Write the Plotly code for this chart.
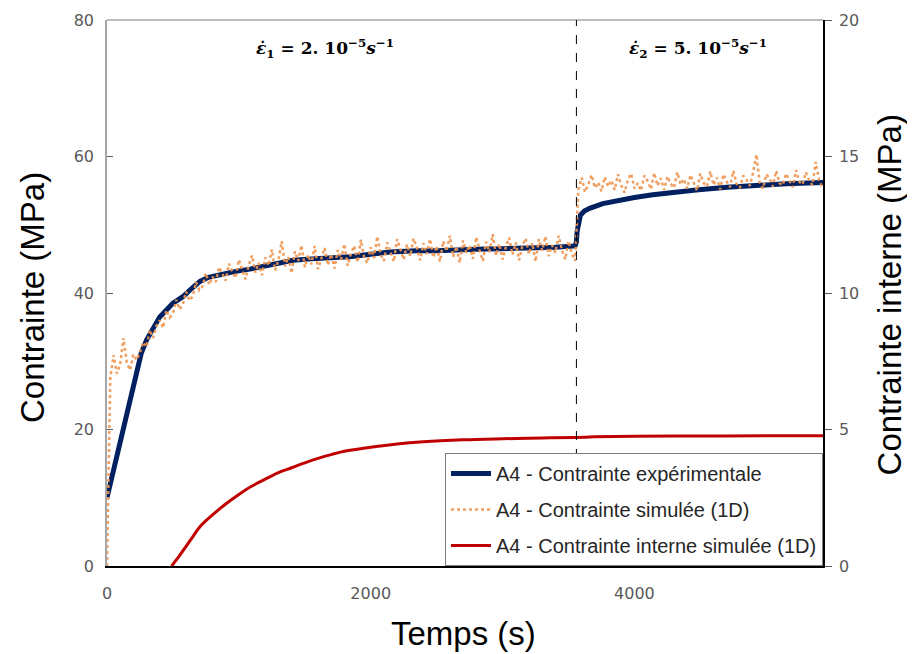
import plotly.graph_objects as go

# ---------------- data ----------------
exp_t = [0, 50, 100, 150, 200, 225, 260, 300, 350, 400, 500, 578, 650, 705, 770, 831,
         957, 1083, 1200, 1300, 1411, 1550, 1664, 1750, 1841, 1967, 2144, 2346, 2500,
         2800, 3000, 3179, 3400, 3550, 3560, 3565, 3575, 3590, 3620, 3660, 3760, 3886,
         4000, 4139, 4300, 4467, 4700, 4922, 5150, 5430]
exp_stress = [10.0, 14.2, 18.3, 22.5, 26.6, 28.7, 31.2, 33.1, 35.0, 36.5, 38.5, 39.5, 40.8,
              41.7, 42.3, 42.6, 43.1, 43.5, 43.9, 44.3, 44.8, 45.0, 45.1, 45.1, 45.3, 45.6,
              46.0, 46.2, 46.2, 46.4, 46.5, 46.5, 46.7, 46.9, 47.5, 49.0, 50.5, 51.4, 52.0,
              52.4, 53.1, 53.6, 54.0, 54.4, 54.8, 55.1, 55.5, 55.8, 56.0, 56.2]

sim_t = list(range(0, 3551, 25)) + list(range(3575, 5426, 25))
sim_stress = [
    # 0 .. 3550 s
    0.0, 27.6, 30.9, 28.2, 29.6, 33.4, 29.8, 28.7, 31.0, 30.2,
    31.3, 32.8, 32.1, 34.6, 33.4, 35.2, 36.0, 34.9, 37.5, 36.4,
    37.0, 39.0, 37.6, 38.3, 40.2, 38.9, 39.5, 41.6, 40.4, 41.0,
    42.9, 41.2, 42.4, 41.6, 43.8, 42.7, 41.8, 44.3, 43.1, 42.2,
    44.9, 43.4, 42.0, 44.1, 45.5, 43.0, 44.4, 42.6, 45.2, 44.0,
    46.4, 43.3, 44.8, 47.6, 43.9, 45.3, 42.9, 46.1, 44.7, 47.0,
    43.8, 45.6, 44.2, 46.9, 43.5, 45.0, 46.6, 44.1, 45.7, 43.6,
    46.3, 44.9, 47.2, 44.0, 45.8, 46.9, 44.5, 47.8, 45.2, 44.4,
    46.7, 45.1, 48.3, 45.6, 44.7, 47.4, 45.9, 44.6, 47.9, 46.2,
    44.9, 47.1, 45.4, 48.0, 46.6, 44.8, 47.3, 45.7, 47.9, 45.2,
    46.9, 44.6, 47.6, 46.1, 48.4, 45.3, 46.8, 44.4, 47.7, 45.9,
    47.0, 45.0, 48.2, 46.3, 44.7, 47.5, 46.0, 48.6, 45.5, 47.2,
    44.9, 46.8, 48.1, 45.6, 47.4, 44.8, 46.9, 48.0, 45.7, 47.3,
    44.6, 47.9, 46.2, 48.3, 45.4, 47.0, 45.9, 48.4, 46.3, 44.9,
    47.6, 45.8, 44.7,
    # 3575 .. 5425 s
    55.2, 56.9, 54.8, 55.9, 57.3, 55.4, 56.2, 54.9, 57.0, 55.6,
    56.5, 55.1, 57.4, 55.8, 54.7, 56.6, 57.5, 55.3, 56.1, 55.0,
    57.2, 56.4, 55.2, 57.6, 55.7, 56.8, 55.1, 57.1, 56.0, 55.4,
    57.7, 55.9, 56.7, 55.3, 57.3, 56.2, 55.0, 57.5, 56.1, 55.6,
    57.8, 55.8, 56.9, 55.2, 57.4, 56.3, 55.5, 57.9, 56.0, 55.4,
    57.2, 56.6, 55.7, 57.6, 60.3, 56.2, 55.3, 57.4, 56.8, 55.6,
    57.9, 56.1, 55.8, 57.5, 56.4, 55.5, 58.0, 56.3, 55.9, 57.7,
    56.5, 55.8, 59.2, 56.6, 55.4]

int_t = [490, 550, 600, 650, 705, 800, 900, 1000, 1100, 1200, 1300, 1400, 1500, 1600,
         1700, 1800, 2000, 2200, 2400, 2700, 3000, 3300, 3560, 3700, 4000, 4500, 5000, 5430]
int_stress = [0.0, 0.38, 0.72, 1.07, 1.44, 1.87, 2.27, 2.62, 2.93, 3.18, 3.42, 3.60, 3.78,
              3.94, 4.08, 4.20, 4.35, 4.47, 4.55, 4.62, 4.66, 4.69, 4.71, 4.73, 4.75, 4.76,
              4.77, 4.77]

rate_change_time = 3560
x_ticks = [0, 2000, 4000]
y_ticks = [0, 20, 40, 60, 80]
y2_ticks = [0, 5, 10, 15, 20]
label_rate1 = "<b><i>ε̇</i><sub>1</sub> = 2. 10<sup>−5</sup><i>s</i><sup>−1</sup></b>"
label_rate2 = "<b><i>ε̇</i><sub>2</sub> = 5. 10<sup>−5</sup><i>s</i><sup>−1</sup></b>"

# ---------------- figure ----------------
fig = go.Figure()
fig.add_trace(go.Scatter(
    x=exp_t, y=exp_stress, mode="lines", name="A4 - Contrainte expérimentale",
    line=dict(color="#002060", width=5), legendgroup="a"))
fig.add_trace(go.Scatter(
    x=sim_t, y=sim_stress, mode="lines", name="A4 - Contrainte simulée (1D)",
    line=dict(color="#F0954F", width=2.5, dash="dot"), opacity=0.9, legendgroup="b"))
fig.add_trace(go.Scatter(
    x=int_t, y=int_stress, mode="lines", name="A4 - Contrainte interne simulée (1D)",
    line=dict(color="#C00000", width=3, shape="spline"), yaxis="y2", legendgroup="c"))

tickfont = dict(family="DejaVu Sans", size=16, color="#595959")
titlefont = dict(family="Liberation Sans", size=33, color="#000000")

# the page body adds an 8px offset; margins compensate so the plot area sits at
# x 107..823.5, y 20..566 in the window
fig.update_layout(
    width=907, height=646,
    margin=dict(l=99, r=91.5, t=12, b=88, autoexpand=False),
    paper_bgcolor="white", plot_bgcolor="white",
    showlegend=True,
    legend=dict(x=1, y=0, xanchor="right", yanchor="bottom",
                bgcolor="white", bordercolor="#7f7f7f", borderwidth=1,
                font=dict(family="Liberation Sans", size=20, color="#262626"),
                itemwidth=40, tracegroupgap=7, traceorder="grouped"),
    xaxis=dict(range=[0, 5430], tickvals=x_ticks, showgrid=False, zeroline=False,
               showline=True, linecolor="#000000", linewidth=1.5, ticks="",
               tickfont=tickfont, ticklabelstandoff=12, automargin=False),
    yaxis=dict(range=[0, 80], tickvals=y_ticks, showgrid=False, zeroline=False,
               showline=True, linecolor="#a6a6a6", linewidth=1.5, ticks="inside",
               ticklen=6, tickcolor="#595959", tickfont=tickfont, ticklabelstandoff=8,
               automargin=False),
    yaxis2=dict(range=[0, 20], tickvals=y2_ticks, overlaying="y", side="right",
                showgrid=False, zeroline=False, showline=True, linecolor="#000000",
                linewidth=1.5, ticks="outside", ticklen=7, tickcolor="#595959",
                tickfont=tickfont, ticklabelstandoff=4, automargin=False),
)

# plot area border (top grey line)
fig.add_shape(type="line", xref="paper", yref="paper", x0=0, x1=1, y0=1, y1=1,
              line=dict(color="#a6a6a6", width=1.5))
# strain-rate change marker
fig.add_shape(type="line", xref="x", yref="paper", x0=rate_change_time, x1=rate_change_time,
              y0=0, y1=1, line=dict(color="#000000", width=1, dash="dash"))

PW, PH = 716.5, 546.0


def px(x):
    return (x - 107) / PW


def py(y):
    return (566 - y) / PH


ann_font = dict(family="DejaVu Serif", size=17, color="#000000")
common = dict(xref="paper", yref="paper", showarrow=False, xanchor="center", yanchor="middle")
fig.add_annotation(text=label_rate1, x=px(325), y=py(48), font=ann_font, **common)
fig.add_annotation(text=label_rate2, x=px(698), y=py(48), font=ann_font, **common)

# axis titles
fig.add_annotation(text="Contrainte (MPa)", x=px(32), y=py(298), textangle=-90,
                   font=titlefont, **common)
fig.add_annotation(text="Contrainte interne (MPa)", x=px(890), y=py(295), textangle=-90,
                   font=titlefont, **common)
fig.add_annotation(text="Temps (s)", x=px(464), y=py(633), font=titlefont, **common)

fig.write_html("out.html")
